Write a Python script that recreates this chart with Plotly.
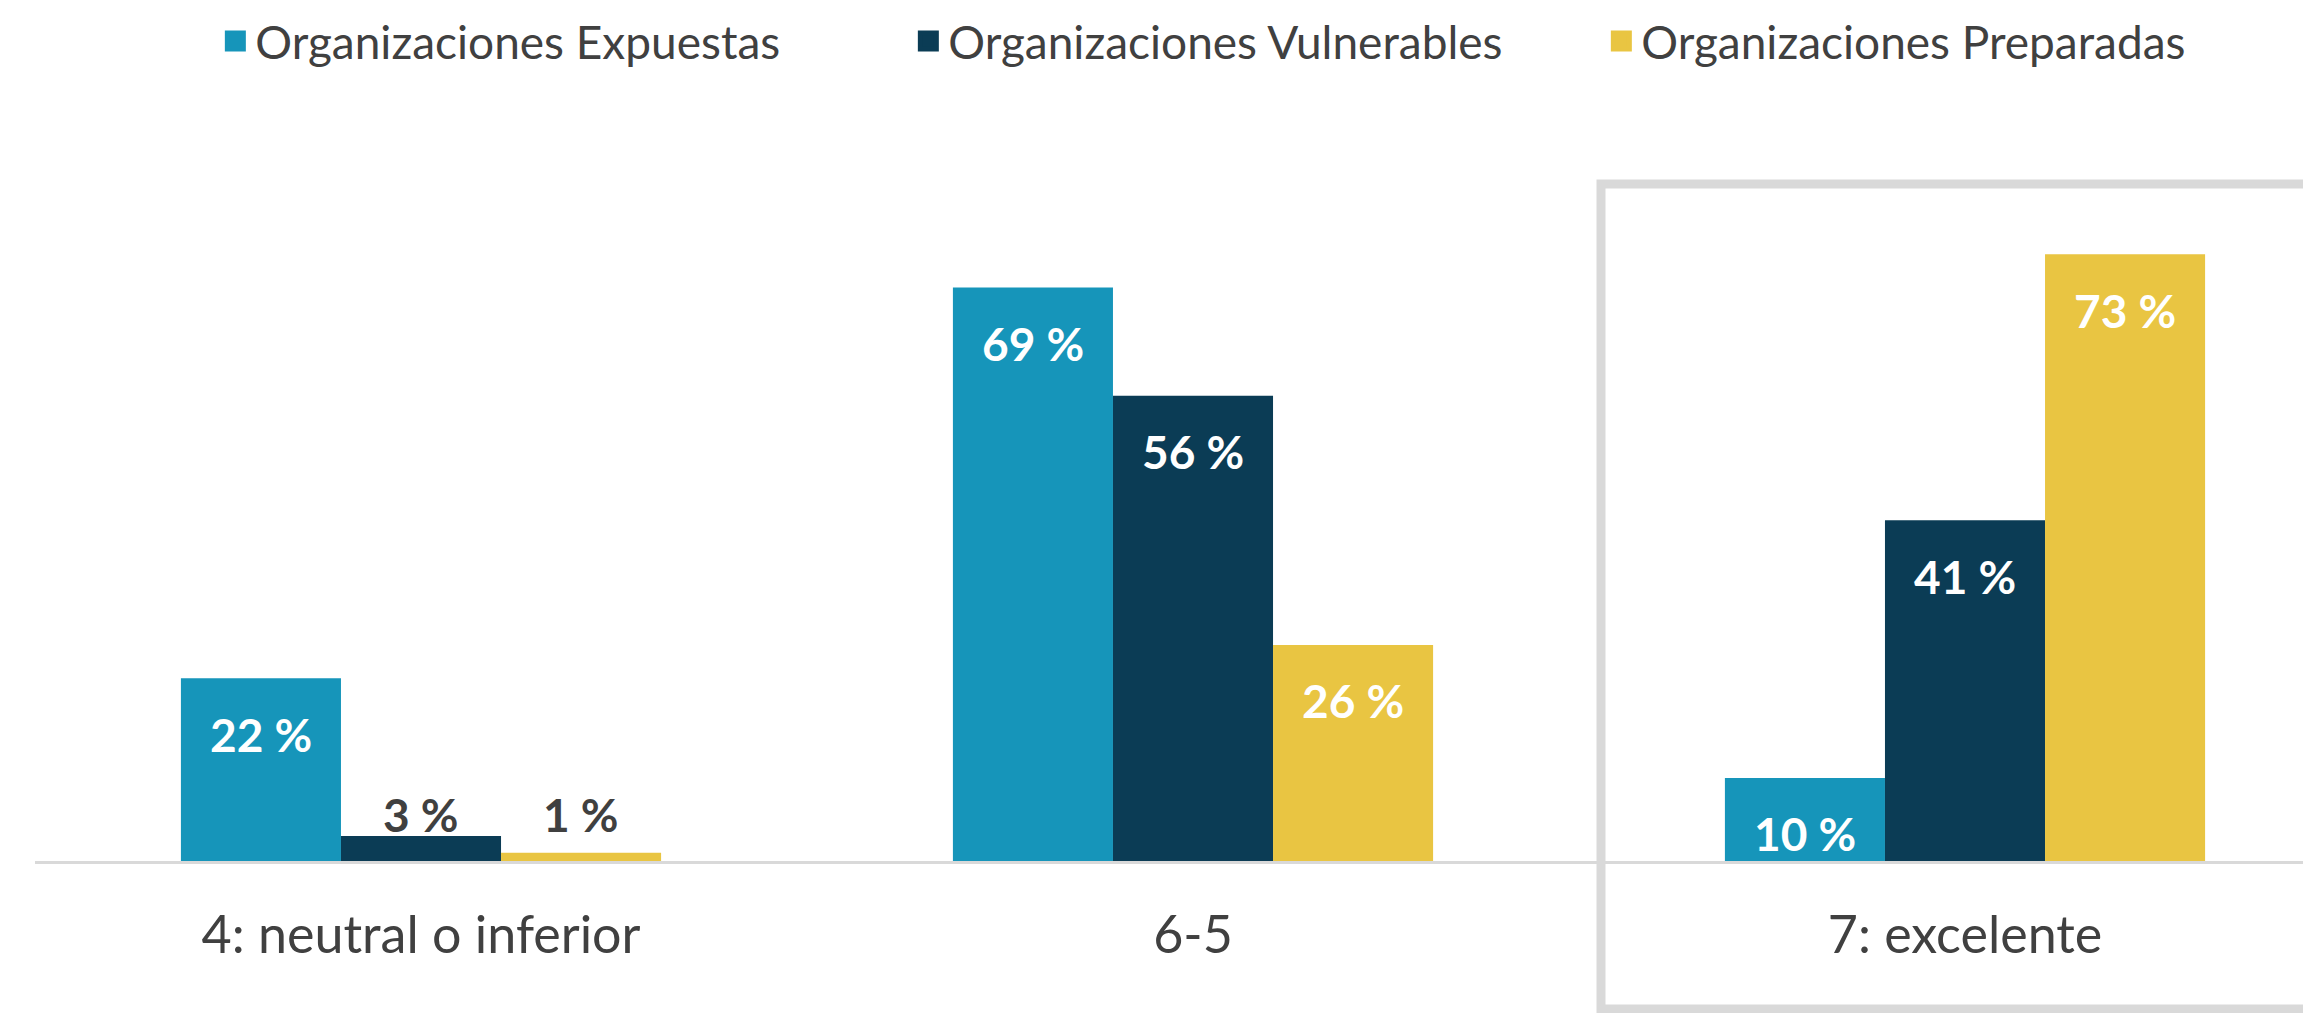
import plotly.graph_objects as go

categories = ["4: neutral o inferior", "6-5", "7: excelente"]
series_names = ["Organizaciones Expuestas", "Organizaciones Vulnerables", "Organizaciones Preparadas"]
expuestas = [22, 69, 10]
vulnerables = [3, 56, 41]
preparadas = [1, 26, 73]
series_values = [expuestas, vulnerables, preparadas]
colors = ["#1695BA", "#0B3C55", "#E9C542"]

FONT = "Lato, 'Source Sans Pro', 'Noto Sans', sans-serif"
BARGAP = 0.378
n_series = len(series_names)
bar_w = (1 - BARGAP) / n_series

fig = go.Figure()
for name, vals, col in zip(series_names, series_values, colors):
    fig.add_trace(go.Bar(x=categories, y=vals, name=name, marker=dict(color=col, line=dict(width=0)),
                         showlegend=False, hoverinfo="skip"))
# legend proxies (bigger square symbols)
for name, col in zip(series_names, colors):
    fig.add_trace(go.Scatter(x=[None], y=[None], mode="markers", name=name,
                             marker=dict(symbol="square", size=28, color=col,
                                         line=dict(color=col, width=6))))

annotations = []
for ci, cat in enumerate(categories):
    small = [vals[ci] for vals in series_values if vals[ci] < 10]
    small_level = max(small) if small else 0
    for si, vals in enumerate(series_values):
        v = vals[ci]
        xpos = ci + (si - (n_series - 1) / 2) * bar_w
        if v >= 10:
            annotations.append(dict(x=xpos, y=v, xref="x", yref="y", text=f"<b>{v} %</b>",
                                    showarrow=False, yanchor="middle", yshift=-56,
                                    font=dict(family=FONT, size=46, color="white")))
        else:
            annotations.append(dict(x=xpos, y=small_level, xref="x", yref="y", text=f"<b>{v} %</b>",
                                    showarrow=False, yanchor="middle", yshift=22,
                                    font=dict(family=FONT, size=46, color="#404040")))

# page body has an 8px margin: figure coordinates = window coordinates - 8
OFF = 8
W, H = 2311, 1013
ML, MR, MT, MB = 35 - OFF, OFF, 100 - OFF, H - (861 - OFF)
plot_w = W - ML - MR
plot_h = H - MT - MB
cat_px = 772
px_per_unit = 8.31


def py(win_y):
    # window pixel y -> paper y
    return (MT + plot_h - (win_y - OFF)) / plot_h


def px(win_x):
    return ((win_x - OFF) - ML) / plot_w


fig.update_layout(
    width=W, height=H,
    margin=dict(l=ML, r=MR, t=MT, b=MB, autoexpand=False),
    paper_bgcolor="white", plot_bgcolor="white",
    barmode="group", bargap=BARGAP, bargroupgap=0,
    font=dict(family=FONT, color="#404040"),
    xaxis=dict(type="category", range=[-0.5, -0.5 + plot_w / cat_px], showgrid=False,
               showline=True, linecolor="#D9D9D9", linewidth=3, ticks="",
               ticklabelstandoff=27, tickfont=dict(family=FONT, size=52, color="#404040"),
               zeroline=False),
    yaxis=dict(range=[0, plot_h / px_per_unit], visible=False, showgrid=False, zeroline=False),
    legend=dict(orientation="h", x=px(229) - 0.006, xanchor="left",
                y=py(41), yanchor="middle",
                font=dict(family=FONT, size=46, color="#404040"),
                entrywidth=648, entrywidthmode="pixels", bgcolor="rgba(0,0,0,0)"),
    annotations=annotations,
    shapes=[dict(type="rect", xref="paper", yref="paper",
                 x0=px(1601), x1=px(2340),
                 y0=py(1009), y1=py(184),
                 line=dict(color="#D9D9D9", width=9), fillcolor="rgba(0,0,0,0)", layer="below")],
)

fig.write_html("out.html")
